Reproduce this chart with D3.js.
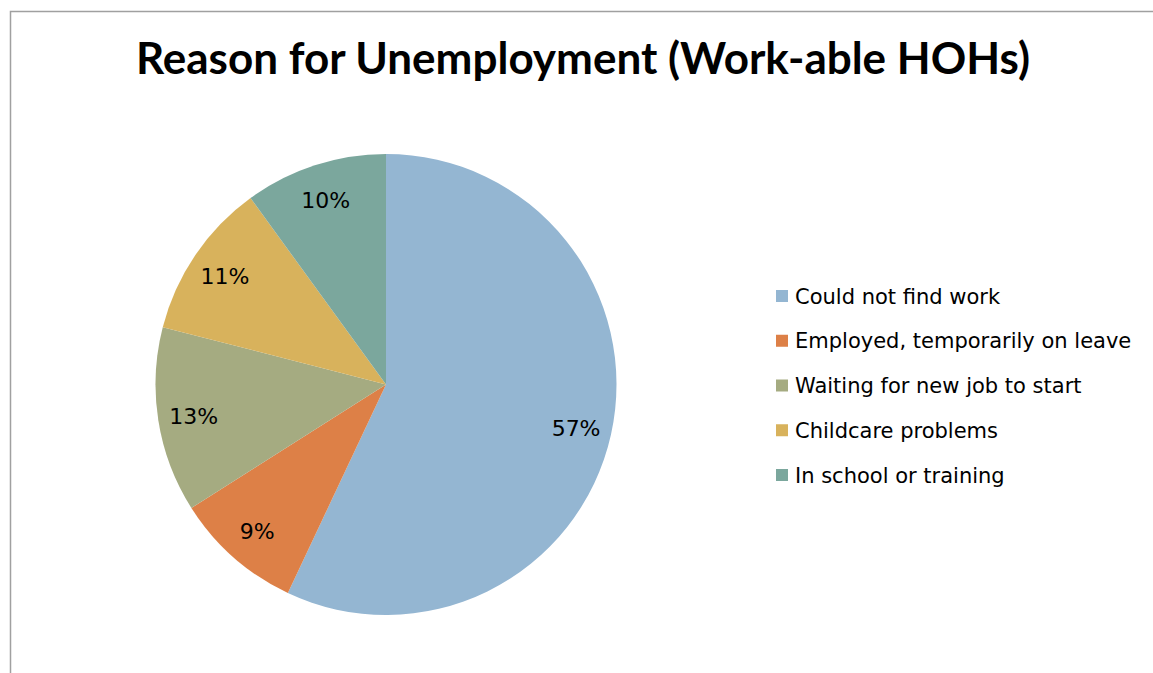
<!DOCTYPE html>
<html>
<head>
<meta charset="utf-8">
<script src="https://cdn.jsdelivr.net/npm/d3@7"></script>
<style>
  body { margin: 0; background: #fff; }
  svg { display: block; font-family: "DejaVu Sans", sans-serif; }
</style>
</head>
<body>
<div id="chart"></div>
<script>
const categories = [
  "Could not find work",
  "Employed, temporarily on leave",
  "Waiting for new job to start",
  "Childcare problems",
  "In school or training"
];
const values = [57, 9, 13, 11, 10];
const colors = ["#94b6d2", "#dd8047", "#a5ab81", "#d8b25c", "#7ba79d"];

const width = 1153, height = 673;
const cx = 386, cy = 384.5, radius = 230.5;

const svg = d3.select("#chart")
  .append("svg")
  .attr("width", width)
  .attr("height", height);

// chart frame (runs off the right and bottom edges)
svg.append("rect")
  .attr("x", 10.5)
  .attr("y", 11.5)
  .attr("width", width)
  .attr("height", height)
  .attr("fill", "none")
  .attr("stroke", "#a0a0a0")
  .attr("stroke-width", 1.5);

const title = svg.append("text")
  .attr("x", 583)
  .attr("y", 74)
  .attr("text-anchor", "middle")
  .style("font-family", "Lato, sans-serif")
  .style("font-size", "44px")
  .style("font-weight", "bold")
  .text("Reason for Unemployment (Work-able HOHs)");

// squeeze title to the width it has in the original
const tw = title.node().getComputedTextLength();
if (tw > 897) title.style("font-size", (44 * 897 / tw) + "px");

const data = categories.map((c, i) => ({ name: c, value: values[i] }));

const color = d3.scaleOrdinal()
  .domain(categories)
  .range(colors);

const pie = d3.pie()
  .value(d => d.value)
  .sort(null);

const arc = d3.arc()
  .innerRadius(0)
  .outerRadius(radius);

const labelArc = d3.arc()
  .innerRadius(radius * 0.845)
  .outerRadius(radius * 0.845);

const g = svg.append("g")
  .attr("transform", `translate(${cx},${cy})`);

const arcs = pie(data);

g.selectAll("path")
  .data(arcs)
  .join("path")
  .attr("d", arc)
  .attr("fill", d => color(d.data.name));

g.selectAll("text.label")
  .data(arcs)
  .join("text")
  .attr("class", "label")
  .attr("transform", d => `translate(${labelArc.centroid(d)})`)
  .attr("text-anchor", "middle")
  .attr("dy", "0.4em")
  .style("font-size", "22px")
  .style("fill", "#000")
  .text(d => d.data.value + "%");

// Legend
const legend = svg.selectAll(".legend")
  .data(categories)
  .join("g")
  .attr("class", "legend")
  .attr("transform", (d, i) => `translate(776, ${296 + i * 44.75})`);

legend.append("rect")
  .attr("x", 0)
  .attr("y", -6)
  .attr("width", 12)
  .attr("height", 12)
  .style("fill", d => color(d));

legend.append("text")
  .attr("x", 19)
  .attr("y", 0)
  .attr("dy", "0.36em")
  .style("font-size", "21px")
  .text(d => d);
</script>
</body>
</html>
